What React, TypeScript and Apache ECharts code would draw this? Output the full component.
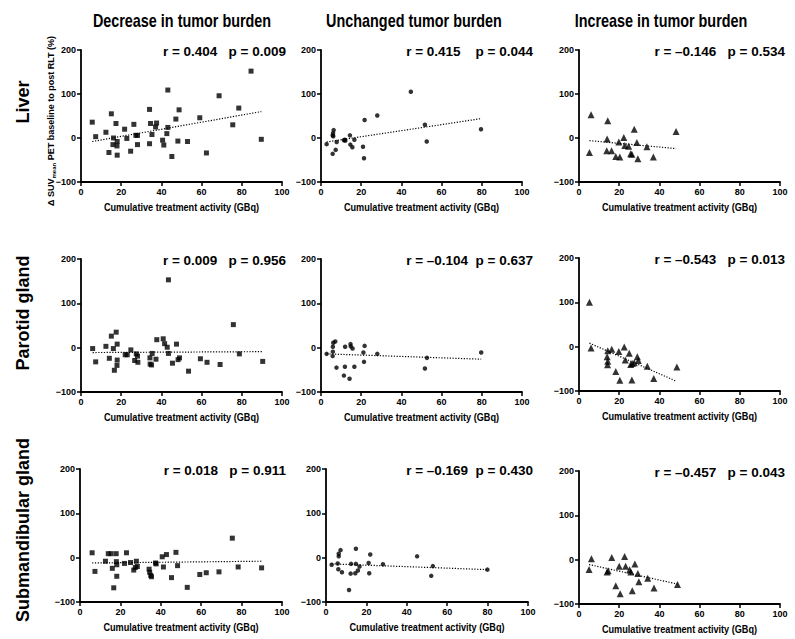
import React, { useEffect, useRef } from 'react';
import * as echarts from 'echarts';

const colTitles = ['Decrease in tumor burden', 'Unchanged tumor burden', 'Increase in tumor burden'];
const rowNames = ['Liver', 'Parotid gland', 'Submandibular gland'];
const xAxisTitle = 'Cumulative treatment activity (GBq)';
const xTickMin = 0;
const xTickMax = 100;
const xTickStep = 20;
const yTickMin = -100;
const yTickMax = 200;
const yTickStep = 100;

// Liver
const liverDecrease = [[5.6,36],[7.3,3],[12.4,13],[15.1,55],[17.4,33],[16.2,0],[15.9,-15],[18,-8],[17.9,-18],[13.9,-33],[18,-39],[21.7,20],[22.8,-1],[24.7,-30],[26.3,31],[27.3,6],[28.1,6],[28.1,-15],[34.1,65],[34.6,33],[34.1,-13],[35.3,8],[37.6,34],[37.1,25],[43.2,109],[43.2,24],[42.7,10],[40.6,-5],[41.2,-16],[45.2,-42],[47.2,43],[48.8,64],[48.2,-7],[53,-8],[59.1,46],[62.4,-34],[68.7,96],[75.5,30],[78.5,68],[84.6,152],[89.7,-3]];
const liverUnchanged = [[2.8,-14],[5.8,-36],[5.8,6],[6,11],[6.3,18],[6.1,4],[7.3,-27],[7.8,-9],[11.4,-5],[12.1,-6],[11.9,-4],[14.4,6],[14.6,-15],[15.6,-21],[16.6,-4],[20.9,-20],[21.4,-46],[21.7,41],[28,51],[44.7,105],[51.7,30],[52.6,-8],[79.6,20]];
const liverIncrease = [[5.2,-33],[6,53],[13.8,-29],[14,-2],[14.3,39],[16.2,-29],[18.3,-42],[19.8,-9],[20.3,-43],[22.3,1],[22.8,-17],[24.7,-19],[25.7,-36],[26.3,-37],[27.5,20],[28.8,-10],[29.3,-47],[33.8,-20],[37,-43],[48.3,15]];

// Parotid gland
const parotidDecrease = [[5.8,-2],[7.3,-32],[12.4,3],[15.1,26],[17.5,35],[14.1,-24],[16.1,-2],[18,8],[18,-28],[17.9,-40],[16.6,-51],[22,-16],[23,-16],[24.8,-5],[26.7,-29],[27.5,-14],[28.1,-19],[28.3,-33],[34.3,-23],[34.4,-37],[35.1,-39],[35.4,-13],[37.7,18],[37.3,-26],[43.5,153],[40.9,20],[41.6,9],[42.9,1],[43.5,-13],[45.5,-35],[47.5,8],[49,-23],[48.3,-27],[53.5,-53],[59.4,-25],[62.7,-33],[69.2,-38],[75.8,52],[78.8,-14],[90.4,-31]];
const parotidUnchanged = [[2.8,-14],[5.8,-19],[5.9,-9],[5.9,2],[6.1,11],[7.1,14],[7.7,-45],[11.4,-63],[11.9,-43],[12,2],[14.2,-70],[14.7,8],[14.8,3],[15.7,-2],[16.6,-43],[21.1,-11],[21.4,-32],[21.7,4],[28,-14],[51.7,-47],[52.7,-23],[79.7,-11]];
const parotidIncrease = [[5.2,100],[6,-3],[14.3,-9],[14,-23],[14.3,-33],[14.2,-41],[16.3,-6],[18.3,-56],[19.8,-11],[20.3,-76],[22.5,-1],[23,-30],[25,-15],[25.7,-40],[26.5,-38],[27.5,-36],[29,-23],[29.5,-31],[26.3,-75],[34,-44],[37.2,-72],[48.7,-46]];

// Submandibular gland
const submandibularDecrease = [[6,11],[7.4,-31],[12.6,-8],[14,9],[15.4,9],[17.9,9],[16,-24],[18,-9],[18.2,-16],[18.2,-42],[16.7,-68],[22,-13],[23,11],[25,-11],[26.6,-28],[27.4,-22],[27.9,-8],[28.4,-20],[34.2,-26],[34.5,-33],[35,-40],[35.4,-43],[37.4,-12],[37.7,-14],[40.7,2],[41.3,-21],[42.8,7],[45.3,-45],[47.5,12],[48.3,-18],[53.1,-67],[59.3,-38],[62.5,-34],[68.8,-32],[75.4,44],[78.3,-21],[89.9,-23]];
const submandibularUnchanged = [[2.8,-16],[6.1,-26],[5.8,-13],[6.3,3],[6.3,9],[7.2,17],[7.9,-33],[11.4,-73],[12.2,-36],[12.4,-14],[14.8,20],[14.5,-35],[14.8,-14],[15.8,-29],[16.6,-20],[21.1,-12],[21.4,-35],[21.9,7],[28.2,-15],[45.1,3],[52.1,-41],[52.9,-19],[79.9,-27]];
const submandibularIncrease = [[5,-22],[6.2,2],[14,-28],[14.5,-25],[16.3,5],[18.3,-59],[20,-15],[20.5,-77],[22.7,7],[23.2,-15],[25.2,-23],[25.8,-28],[27.8,-10],[26.5,-70],[29.3,-31],[29.8,-50],[34.2,-42],[37.3,-64],[49,-56]];

// Regression line endpoints
const liverDecreaseTrend = [[5.6,-8],[89.7,60]];
const liverUnchangedTrend = [[2.8,-9],[79.6,44]];
const liverIncreaseTrend = [[5.2,-6],[48.3,-24]];
const parotidDecreaseTrend = [[5.8,-11],[90.4,-9]];
const parotidUnchangedTrend = [[2.8,-14],[79.7,-26]];
const parotidIncreaseTrend = [[5.2,8],[48,-77]];
const submandibularDecreaseTrend = [[6,-12],[89.9,-8]];
const submandibularUnchangedTrend = [[2.8,-14],[79.9,-27]];
const submandibularIncreaseTrend = [[5,-11],[49,-55]];

// Statistics
const liverStats = ['r = 0.404   p = 0.009', 'r = 0.415    p = 0.044', 'r = \u20130.146   p = 0.534'];
const parotidStats = ['r = 0.009   p = 0.956', 'r = \u20130.104  p = 0.637', 'r = \u20130.543   p = 0.013'];
const submandibularStats = ['r = 0.018   p = 0.911', 'r = \u20130.169  p = 0.430', 'r = \u20130.457   p = 0.043'];

const panelPoints = [
  [liverDecrease, liverUnchanged, liverIncrease],
  [parotidDecrease, parotidUnchanged, parotidIncrease],
  [submandibularDecrease, submandibularUnchanged, submandibularIncrease],
];
const panelTrends = [
  [liverDecreaseTrend, liverUnchangedTrend, liverIncreaseTrend],
  [parotidDecreaseTrend, parotidUnchangedTrend, parotidIncreaseTrend],
  [submandibularDecreaseTrend, submandibularUnchangedTrend, submandibularIncreaseTrend],
];
const panelStats = [liverStats, parotidStats, submandibularStats];

// Layout (pixels)
const layout = [
  [{ l: 81, t: 50, w: 201, h: 132 }, { l: 321, t: 50, w: 201, h: 132 }, { l: 579, t: 50, w: 201, h: 132 }],
  [{ l: 81, t: 259, w: 201, h: 133 }, { l: 321, t: 259, w: 201, h: 133 }, { l: 579, t: 258, w: 201, h: 133 }],
  [{ l: 80, t: 469, w: 202, h: 133 }, { l: 326, t: 469, w: 202, h: 133 }, { l: 579, t: 471, w: 201, h: 133 }],
];
const statRight = [286, 533, 785];
const titleCenters = [182, 414, 661];
const rowCenters = [102, 313, 530];
const symbols = [
  { symbol: 'rect', size: 5 },
  { symbol: 'circle', size: 4.5 },
  { symbol: 'triangle', size: 7 },
];

const FONT = '"Liberation Sans", Arial, Helvetica, sans-serif';

export default function App() {
  const ref = useRef<HTMLDivElement>(null);

  useEffect(() => {
    if (!ref.current) return;
    const chart = echarts.init(ref.current, undefined, { renderer: 'svg' });
    const grids: any[] = [];
    const xAxes: any[] = [];
    const yAxes: any[] = [];
    const series: any[] = [];
    const graphics: any[] = [];
    let idx = 0;
    for (let r = 0; r < 3; r++) {
      for (let c = 0; c < 3; c++) {
        const g = layout[r][c];
        grids.push({ left: g.l, top: g.t, width: g.w, height: g.h, containLabel: false });
        const axisLine = { show: true, onZero: false, lineStyle: { color: '#000', width: 1.8 } };
        const axisTick = { show: true, length: 4, lineStyle: { color: '#000', width: 1.5 } };
        xAxes.push({
          type: 'value', gridIndex: idx, min: xTickMin, max: xTickMax, interval: xTickStep,
          axisLine, axisTick, splitLine: { show: false },
          axisLabel: { color: '#000', fontSize: 9, fontWeight: 'bold', fontFamily: FONT, margin: 5 },
        });
        yAxes.push({
          type: 'value', gridIndex: idx, min: yTickMin, max: yTickMax, interval: yTickStep,
          axisLine, axisTick, splitLine: { show: false },
          axisLabel: {
            color: '#000', fontSize: 9, fontWeight: 'bold', fontFamily: FONT, margin: 5,
            formatter: (v: number) => (v < 0 ? '\u2212' + Math.abs(v) : String(v)),
          },
        });
        const sym = symbols[c];
        series.push({
          type: 'scatter', xAxisIndex: idx, yAxisIndex: idx, data: panelPoints[r][c],
          symbol: sym.symbol, symbolSize: sym.size, itemStyle: { color: '#000' }, silent: true,
        });
        series.push({
          type: 'line', xAxisIndex: idx, yAxisIndex: idx, data: panelTrends[r][c],
          showSymbol: false, symbol: 'none', silent: true,
          lineStyle: { color: '#000', width: 1.2, type: [1.2, 1.6] },
        });
        graphics.push({
          type: 'text', x: statRight[c], y: g.t + 1,
          style: {
            text: panelStats[r][c], align: 'right', verticalAlign: 'middle',
            fontSize: 13.5, fontWeight: 'bold', fontFamily: FONT, fill: '#000',
          },
        });
        // x axis title
        graphics.push({
          type: 'text', x: g.l + g.w / 2, y: g.t + g.h + 25, scaleX: 0.87,
          style: {
            text: xAxisTitle, align: 'center', verticalAlign: 'middle',
            fontSize: 10.5, fontWeight: 'bold', fontFamily: FONT, fill: '#000',
          },
        });
        idx++;
      }
    }
    for (let c = 0; c < 3; c++) {
      graphics.push({
        type: 'text', x: titleCenters[c], y: 20, scaleX: 0.8,
        style: {
          text: colTitles[c], align: 'center', verticalAlign: 'middle',
          fontSize: 18, fontWeight: 'bold', fontFamily: FONT, fill: '#000',
        },
      });
    }
    for (let r = 0; r < 3; r++) {
      graphics.push({
        type: 'text', x: 23, y: rowCenters[r], rotation: Math.PI / 2,
        style: {
          text: rowNames[r], align: 'center', verticalAlign: 'middle',
          fontSize: 18, fontWeight: 'bold', fontFamily: FONT, fill: '#000',
        },
      });
    }
    graphics.push({
      type: 'text', x: 51, y: 121, rotation: Math.PI / 2,
      style: {
        text: '{a|\u0394 SUV}{b|mean}{a| PET baseline to post RLT (%)}',
        align: 'center', verticalAlign: 'middle', fill: '#000',
        rich: {
          a: { fontSize: 9, fontWeight: 'bold', fontFamily: FONT, lineHeight: 12, fill: '#000' },
          b: { fontSize: 6, fontWeight: 'bold', fontFamily: FONT, lineHeight: 6, verticalAlign: 'bottom', fill: '#000' },
        },
      },
    });

    chart.setOption({
      animation: false,
      backgroundColor: '#fff',
      grid: grids,
      xAxis: xAxes,
      yAxis: yAxes,
      series,
      graphic: graphics,
    });
    return () => chart.dispose();
  }, []);

  return <div ref={ref} style={{ position: 'fixed', left: 0, top: 0, width: 795, height: 639 }} />;
}
